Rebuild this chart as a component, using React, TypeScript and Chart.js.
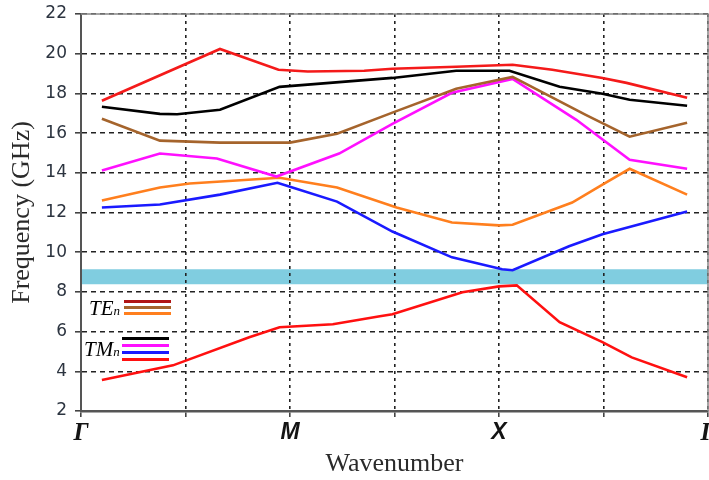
import React, { useEffect, useRef } from 'react';
import { Chart, registerables } from 'chart.js';

Chart.register(...registerables);

// Axis / ticks
const X_TICK_LABELS = ['Γ', '', 'M', '', 'X', '', 'Γ'];
const Y_MIN = 2;
const Y_MAX = 22;
const Y_STEP = 2;

// Band gap (shaded band)
const BAND_LOW = 8.38;
const BAND_HIGH = 9.14;

// TE modes
const TE1_X = [0.2, 1.33, 1.89, 2.17, 2.71, 2.98, 3.59, 4.13, 4.51, 4.99, 5.22, 5.8];
const TE1_Y = [17.63, 20.24, 19.19, 19.1, 19.14, 19.24, 19.34, 19.44, 19.19, 18.78, 18.53, 17.78];

const TE2_X = [0.2, 0.755, 1.33, 2.0, 2.45, 2.98, 3.59, 4.13, 4.83, 5.25, 5.8];
const TE2_Y = [16.72, 15.62, 15.52, 15.52, 15.97, 17.03, 18.23, 18.83, 16.92, 15.82, 16.52];

const TE3_X = [0.2, 0.755, 1.04, 1.9, 2.45, 3.02, 3.55, 4.0, 4.13, 4.7, 4.99, 5.25, 5.8];
const TE3_Y = [12.6, 13.26, 13.46, 13.75, 13.26, 12.25, 11.5, 11.35, 11.38, 12.5, 13.4, 14.2, 12.9];

// TM modes
const TM1_X = [0.2, 0.755, 0.92, 1.33, 1.9, 2.98, 3.59, 4.1, 4.58, 4.99, 5.25, 5.8];
const TM1_Y = [17.33, 16.97, 16.95, 17.18, 18.33, 18.78, 19.14, 19.14, 18.33, 17.98, 17.68, 17.38];

const TM2_X = [0.2, 0.755, 1.3, 1.87, 2.47, 2.98, 3.55, 4.13, 4.74, 5.25, 5.8];
const TM2_Y = [14.11, 14.97, 14.72, 13.81, 14.97, 16.47, 18.03, 18.73, 16.67, 14.66, 14.2];

const TM3_X = [0.2, 0.755, 1.33, 1.88, 2.0, 2.45, 2.98, 3.55, 4.03, 4.13, 4.67, 4.99, 5.8];
const TM3_Y = [12.25, 12.4, 12.9, 13.5, 13.3, 12.55, 11.04, 9.74, 9.14, 9.09, 10.3, 10.9, 12.05];

const TM4_X = [0.2, 0.88, 1.61, 1.9, 2.41, 2.86, 2.98, 3.65, 4.0, 4.17, 4.58, 4.99, 5.27, 5.8];
const TM4_Y = [3.56, 4.3, 5.72, 6.22, 6.37, 6.77, 6.87, 7.98, 8.28, 8.33, 6.47, 5.47, 4.7, 3.7];

const C_TE1 = '#f41a1a';
const C_TE1_LEGEND = '#b01515';
const C_TE2 = '#a5642c';
const C_TE3 = '#ff7f1e';
const C_TM1 = '#000000';
const C_TM2 = '#ff10ff';
const C_TM3 = '#1a1aff';
const C_TM4 = '#ff1010';
const C_BAND = '#80cde0';

const pts = (xs: number[], ys: number[]) => xs.map((x, i) => ({ x, y: ys[i] }));

const line = (label: string, xs: number[], ys: number[], color: string) => ({
  label,
  data: pts(xs, ys),
  borderColor: color,
  backgroundColor: color,
  borderWidth: 2.6,
  pointRadius: 0,
  tension: 0,
  fill: false,
});

const framePlugin = {
  id: 'frame',
  afterDatasetsDraw(chart: any) {
    const { ctx, chartArea } = chart;
    ctx.save();
    ctx.strokeStyle = '#888';
    ctx.lineWidth = 1.5;
    ctx.beginPath();
    ctx.moveTo(chartArea.left, chartArea.top);
    ctx.lineTo(chartArea.right, chartArea.top);
    ctx.lineTo(chartArea.right, chartArea.bottom);
    ctx.stroke();
    ctx.restore();
  },
};

export default function App() {
  const ref = useRef<HTMLCanvasElement>(null);

  useEffect(() => {
    if (!ref.current) return;
    const xMax = X_TICK_LABELS.length - 1;
    const chart = new Chart(ref.current, {
      type: 'line',
      data: {
        datasets: [
          line('TE1', TE1_X, TE1_Y, C_TE1),
          line('TM1', TM1_X, TM1_Y, C_TM1),
          line('TE2', TE2_X, TE2_Y, C_TE2),
          line('TM2', TM2_X, TM2_Y, C_TM2),
          line('TE3', TE3_X, TE3_Y, C_TE3),
          line('TM3', TM3_X, TM3_Y, C_TM3),
          line('TM4', TM4_X, TM4_Y, C_TM4),
          {
            label: 'band',
            data: [
              { x: 0, y: BAND_HIGH },
              { x: xMax, y: BAND_HIGH },
            ],
            borderWidth: 0,
            borderColor: 'rgba(0,0,0,0)',
            backgroundColor: C_BAND,
            pointRadius: 0,
            fill: { value: BAND_LOW },
          } as any,
        ],
      },
      options: {
        animation: false,
        responsive: false,
        maintainAspectRatio: false,
        layout: { padding: { top: 14, right: 1, left: 0, bottom: 0 } },
        plugins: {
          legend: { display: false },
          tooltip: { enabled: false },
          filler: { drawTime: 'beforeDraw' } as any,
        },
        scales: {
          x: {
            type: 'linear',
            min: 0,
            max: xMax,
            afterFit: (s: any) => {
              s.height = 69;
              s.paddingLeft = 0;
              s.paddingRight = 0;
            },
            ticks: {
              stepSize: 1,
              autoSkip: false,
              maxRotation: 0,
              padding: 2,
              color: '#141414',
              callback: (v: any) => X_TICK_LABELS[Math.round(Number(v))] ?? '',
              font: (c: any) => {
                const lbl = X_TICK_LABELS[c.index] || '';
                return {
                  family: lbl === 'Γ' ? 'Liberation Serif' : 'Liberation Sans',
                  size: lbl === 'Γ' ? 25 : 23,
                  weight: 'bold',
                  style: 'italic',
                } as any;
              },
            },
            grid: {
              color: '#222',
              lineWidth: 1.6,
              tickLength: 6,
              tickColor: '#444',
              drawTicks: true,
            },
            border: { display: true, color: '#555', width: 2.5, dash: [3, 4] },
            title: {
              display: true,
              text: 'Wavenumber',
              color: '#2a2a2a',
              font: { family: 'Liberation Serif', size: 26 },
              padding: { top: 4, bottom: 0 },
            },
          },
          y: {
            type: 'linear',
            min: Y_MIN,
            max: Y_MAX,
            afterFit: (s: any) => {
              s.width = 81;
              s.paddingTop = 0;
              s.paddingBottom = 0;
            },
            ticks: {
              stepSize: Y_STEP,
              padding: 8,
              color: '#2c3440',
              font: { family: 'DejaVu Sans', size: 17 },
            },
            grid: {
              color: '#222',
              lineWidth: 1.6,
              tickLength: 6,
              tickColor: '#444',
            },
            border: { display: true, color: '#555', width: 2, dash: [5, 4] },
            title: {
              display: true,
              text: 'Frequency (GHz)',
              color: '#2a2a2a',
              font: { family: 'Liberation Serif', size: 26 },
              padding: { top: 7, bottom: 0 },
            },
          },
        },
      },
      plugins: [framePlugin],
    });
    return () => chart.destroy();
  }, []);

  const legendLine = (top: number, left: number, width: number, color: string) => (
    <div
      style={{
        position: 'absolute',
        top,
        left,
        width,
        height: 3,
        background: color,
      }}
    />
  );

  const labelStyle: React.CSSProperties = {
    position: 'absolute',
    fontFamily: 'Liberation Serif',
    fontStyle: 'italic',
    fontSize: 21,
    color: '#000',
    lineHeight: '21px',
    whiteSpace: 'nowrap',
  };

  return (
    <div style={{ position: 'absolute', left: 0, top: 0, width: 709, height: 480, background: '#fff' }}>
      <canvas ref={ref} width={709} height={480} style={{ display: 'block' }} />
      <div style={{ ...labelStyle, left: 89, top: 298 }}>
        TE<span style={{ fontSize: 13 }}>n</span>
      </div>
      {legendLine(300, 124, 47, C_TE1_LEGEND)}
      {legendLine(306, 124, 47, C_TE2)}
      {legendLine(312, 124, 47, C_TE3)}
      <div style={{ ...labelStyle, left: 84, top: 339 }}>
        TM<span style={{ fontSize: 13 }}>n</span>
      </div>
      {legendLine(337, 122, 47, C_TM1)}
      {legendLine(344, 122, 47, C_TM2)}
      {legendLine(351, 122, 47, C_TM3)}
      {legendLine(358, 122, 47, C_TM4)}
    </div>
  );
}
